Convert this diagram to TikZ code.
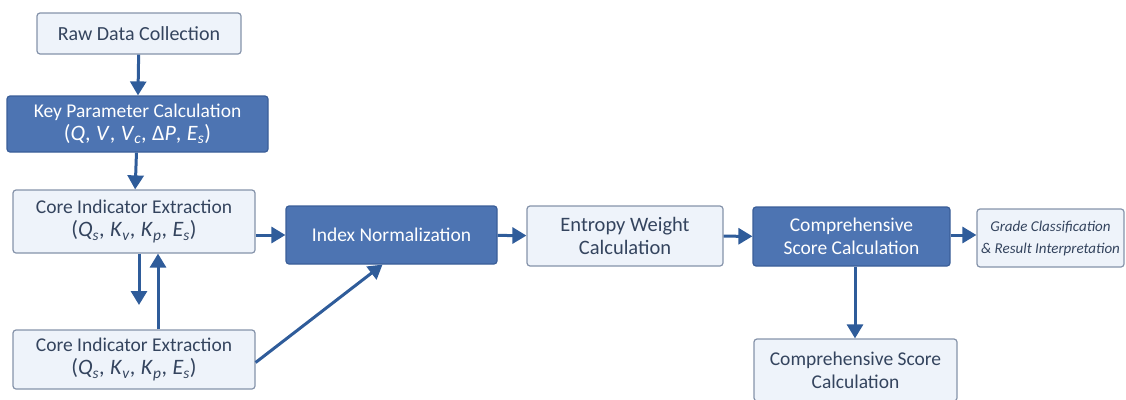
\documentclass[tikz,border=0pt]{standalone}
\usepackage{fontspec}
\setmainfont{Carlito}
\usetikzlibrary{arrows.meta}
\definecolor{darkfill}{HTML}{4D74B2}
\definecolor{darkline}{HTML}{3A5E98}
\definecolor{lightfill}{HTML}{EEF3FA}
\definecolor{lightline}{HTML}{8593AA}
\definecolor{txt}{HTML}{34445E}
\definecolor{arr}{HTML}{2F5C9A}
\tikzset{
  lightbox/.style={draw=lightline, fill=lightfill, line width=1.2pt, rounded corners=3pt, text=txt, align=center, inner sep=0pt, font=\fontsize{19.5}{23}\selectfont},
  darkbox/.style={draw=darkline, fill=darkfill, line width=1.2pt, rounded corners=3pt, text=white, align=center, inner sep=0pt, font=\fontsize{19.5}{23}\selectfont},
  flow/.style={draw=arr, line width=3pt, -{Triangle[length=14pt,width=16pt]}},
}
\newcommand{\ii}[1]{\textit{#1}}
\newcommand{\cm}{,\hspace{0.25em}}
\begin{document}
\begin{tikzpicture}[x=1pt,y=-1pt]
\useasboundingbox (0,0) rectangle (1126,399);
\node[lightbox, minimum width=204pt, minimum height=41pt, font=\fontsize{20}{23}\selectfont] (raw) at (139,33.5) {Raw Data Collection};
\node[darkbox, minimum width=261pt, minimum height=56pt] (key) at (137.5,124) {Key Parameter Calculation\\ \fontsize{22}{24}\selectfont(\ii{Q}\cm\ii{V}\cm\ii{V}\textsubscript{\ii{c}}\cm Δ\ii{P}\cm\ii{E}\textsubscript{\ii{s}})};
\node[lightbox, minimum width=242pt, minimum height=63pt] (core1) at (134,221.5) {Core Indicator Extraction\\ \fontsize{22}{25}\selectfont(\ii{Q}\textsubscript{\ii{s}}\cm\ii{K}\textsubscript{\ii{v}}\cm\ii{K}\textsubscript{\ii{p}}\cm\ii{E}\textsubscript{\ii{s}})};
\node[lightbox, minimum width=242pt, minimum height=59pt] (core2) at (134,359.5) {Core Indicator Extraction\\ \fontsize{22}{25}\selectfont(\ii{Q}\textsubscript{\ii{s}}\cm\ii{K}\textsubscript{\ii{v}}\cm\ii{K}\textsubscript{\ii{p}}\cm\ii{E}\textsubscript{\ii{s}})};
\node[darkbox, minimum width=211pt, minimum height=58pt] (norm) at (391.5,235) {Index Normalization};
\node[lightbox, minimum width=196pt, minimum height=60pt, font=\fontsize{20.5}{23}\selectfont] (ent) at (625,236) {Entropy Weight\\Calculation};
\node[darkbox, minimum width=197pt, minimum height=59pt] (comp) at (851.5,236.5) {Comprehensive\\Score Calculation};
\node[lightbox, minimum width=147pt, minimum height=58pt, font=\fontsize{15}{22}\selectfont\itshape] (grade) at (1050.5,238) {Grade Classification\\\& Result Interpretation};
\node[lightbox, minimum width=203pt, minimum height=62pt] (comp2) at (855.5,370) {Comprehensive Score\\Calculation};
\draw[flow] (raw) -- (key);
\draw[flow] (key) -- (core1);
\draw[flow] ([xshift=5pt]core1.south) -- ([xshift=5pt]core1.south |- 0,305);
\draw[flow] ([xshift=24pt]core2.north) -- ([xshift=24pt]core1.south);
\draw[flow] (core1.east |- 0,235) -- (norm.west);
\draw[flow] ([yshift=-3pt]core2.east) -- ([xshift=-9pt]norm.south);
\draw[flow] (norm) -- (ent);
\draw[flow] (ent) -- (comp);
\draw[flow] (comp.east |- 0,235) -- (grade.west |- 0,235);
\draw[flow] ([xshift=3.5pt]comp.south) -- ([xshift=3.5pt]comp.south |- comp2.north);
\end{tikzpicture}
\end{document}
